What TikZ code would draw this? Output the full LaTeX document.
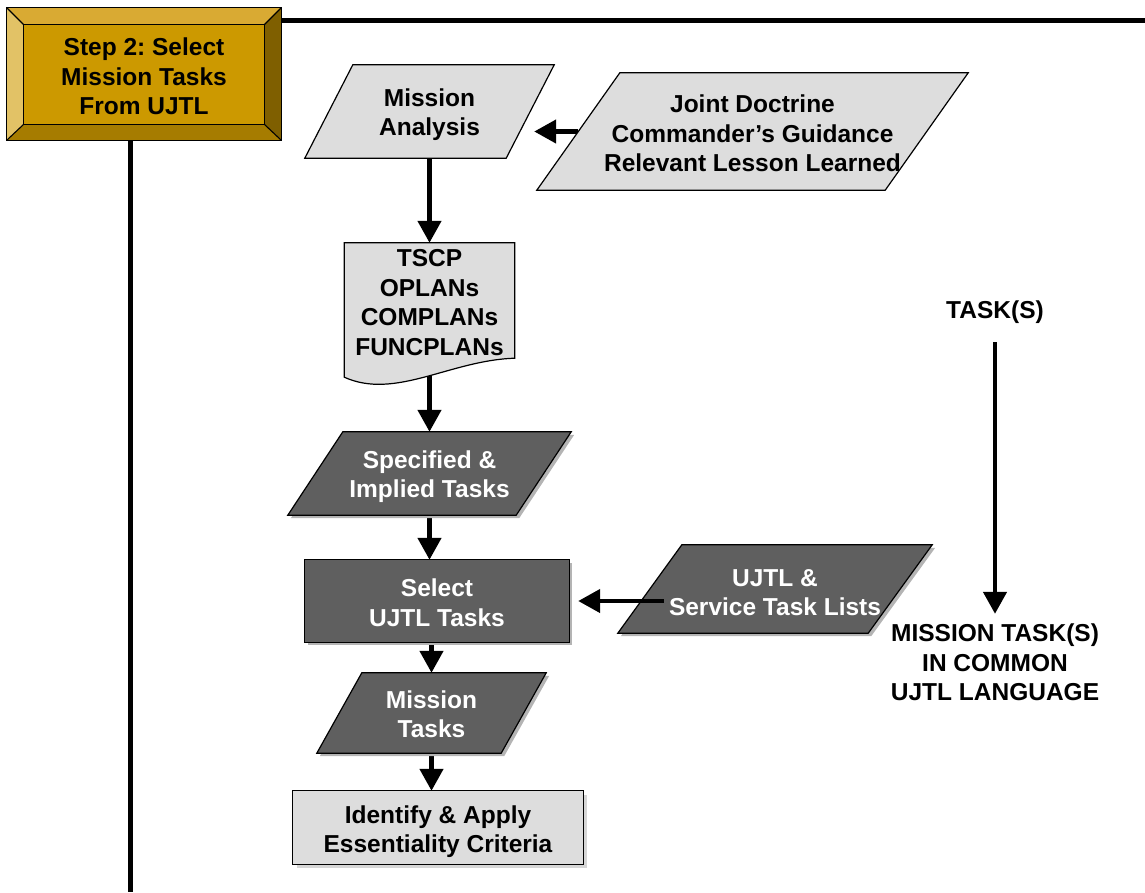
\documentclass[tikz,border=0pt]{standalone}
\usepackage{fontspec}
\setmainfont{Liberation Sans}
\usetikzlibrary{arrows.meta,calc}
\pgfdeclarelayer{background}
\pgfdeclarelayer{shapes}
\pgfsetlayers{background,shapes,main}
\frenchspacing

\definecolor{lightfill}{HTML}{DDDDDD}
\definecolor{darkfill}{HTML}{5F5F5F}
\definecolor{stepface}{HTML}{CC9900}
\definecolor{steptop}{HTML}{D9AA33}
\definecolor{stepleft}{HTML}{E2C266}
\definecolor{stepright}{HTML}{7F5F00}
\definecolor{stepbottom}{HTML}{A67C00}
\definecolor{shade}{HTML}{B4B4B4}
\definecolor{lightshade}{HTML}{D6D6D6}

\tikzset{
  box/.style={inner sep=0pt, align=center, font=\fontsize{24.5}{29.5}\selectfont\bfseries},
  lighttext/.style={box, text=black},
  darktext/.style={box, text=white},
  outline/.style={draw=black, line width=1.2pt, line join=miter},
  lightshape/.style={outline, fill=lightfill},
  darkshape/.style={outline, fill=darkfill,
    preaction={fill=shade, transform canvas={shift={(3pt,-3pt)}}}},
  liftedshape/.style={outline, fill=lightfill,
    preaction={fill=lightshade, transform canvas={shift={(4pt,-4pt)}}}},
  flow/.style={line width=4.5pt, -{Triangle[length=22pt,width=23pt]}},
  frame/.style={line width=5pt},
}

% strut that sets the height of a first text line (moves the text block down)
\newcommand{\firstline}[1]{\rule{0pt}{#1pt}}

% parallelogram around a node: #1 node, #2 horizontal slant, #3 style
\newcommand{\slantbox}[3]{%
  \begin{pgfonlayer}{shapes}
    \path[#3] ($(#1.south west)+(-#2/2,0)$) -- ($(#1.south east)+(-#2/2,0)$)
      -- ($(#1.north east)+(#2/2,0)$) -- ($(#1.north west)+(#2/2,0)$) -- cycle;
  \end{pgfonlayer}}
% plain rectangle around a node
\newcommand{\squarebox}[2]{%
  \begin{pgfonlayer}{shapes}
    \path[#2] (#1.south west) rectangle (#1.north east);
  \end{pgfonlayer}}

\begin{document}
\begin{tikzpicture}[x=1pt,y=-1pt]
\useasboundingbox (0,0) rectangle (1145,892);

% ---- step header ----
\node[lighttext, minimum width=274pt, minimum height=132pt] (step) at (144,74)
  {\firstline{23}Step 2: Select\\Mission Tasks\\From UJTL};
\begin{pgfonlayer}{shapes}
  \coordinate (s1) at (step.north west);
  \coordinate (s2) at (step.north east);
  \coordinate (s3) at (step.south east);
  \coordinate (s4) at (step.south west);
  \coordinate (i1) at ($(s1)+(17,17)$);
  \coordinate (i2) at ($(s2)+(-17,17)$);
  \coordinate (i3) at ($(s3)+(-17,-16)$);
  \coordinate (i4) at ($(s4)+(17,-16)$);
  \fill[steptop] (s1) -- (s2) -- (i2) -- (i1) -- cycle;
  \fill[stepleft] (s1) -- (i1) -- (i4) -- (s4) -- cycle;
  \fill[stepright] (s2) -- (s3) -- (i3) -- (i2) -- cycle;
  \fill[stepbottom] (s4) -- (i4) -- (i3) -- (s3) -- cycle;
  \fill[stepface] (i1) rectangle (i3);
  \draw[line width=1.3pt] (s1) rectangle (s3);
  \draw[line width=1.1pt] (i1) rectangle (i3);
  \draw[line width=1.1pt] (s1) -- (i1) (s2) -- (i2) (s3) -- (i3) (s4) -- (i4);
\end{pgfonlayer}
\draw[frame] (step.east |- 0,20) -- (1145,20);
\draw[frame] ([xshift=-14pt]step.south) -- ([xshift=-14pt]step.south |- 0,892);

% ---- flow chart nodes ----
\node[lighttext, minimum width=201pt, minimum height=93pt] (ma) at (429.5,111.5)
  {\firstline{24}Mission\\Analysis};
\slantbox{ma}{48}{lightshape}

\node[lighttext, minimum width=348pt, minimum height=117pt] (jd) at (752.5,131.5)
  {\firstline{22}Joint Doctrine\\Commander’s Guidance\\Relevant Lesson Learned};
\slantbox{jd}{83}{lightshape}

\node[lighttext, minimum width=170pt, minimum height=119pt] (doc) at (429.5,302.5)
  {TSCP\\OPLANs\\COMPLANs\\FUNCPLANs};
\begin{pgfonlayer}{shapes}
  \path[lightshape] (doc.north west) -- (doc.north east) -- ($(doc.south east)+(0,-4)$)
    .. controls ($(doc.south west)+(106,-2)$) and ($(doc.south west)+(51,38)$)
    .. ($(doc.south west)+(0,15)$) -- cycle;
\end{pgfonlayer}

\node[darktext, minimum width=228pt, minimum height=83pt] (spec) at (429.5,473.5)
  {\firstline{24}Specified \&\\Implied Tasks};
\slantbox{spec}{55}{darkshape}

\node[darktext, minimum width=264pt, minimum height=82pt] (sel) at (437,601)
  {\firstline{21}Select\\UJTL Tasks};
\squarebox{sel}{darkshape}

\node[darktext, minimum width=250pt, minimum height=88pt] (ujtl) at (775,589)
  {\firstline{24}UJTL \&\\Service Task Lists};
\slantbox{ujtl}{64}{darkshape}

\node[darktext, minimum width=184pt, minimum height=80pt] (mt) at (431.5,713)
  {\firstline{20}Mission\\Tasks};
\slantbox{mt}{45}{darkshape}

\node[lighttext, minimum width=290pt, minimum height=73pt] (id) at (438,827.5)
  {\firstline{26}Identify \& Apply\\Essentiality Criteria};
\squarebox{id}{liftedshape}

\node[lighttext] (task) at (995,312.5) {TASK(S)};
\node[lighttext] (mtask) at (995,662.5) {MISSION TASK(S)\\IN COMMON\\UJTL LANGUAGE};

% ---- connectors ----
\begin{pgfonlayer}{background}
  \draw[flow] (ma.south) -- (doc.north);
  \draw[flow] (doc.south) -- (spec.north);
  \draw[flow] (spec.south) -- (spec.south |- sel.north);
  \draw[flow] (mt.north |- sel.south) -- (mt.north);
  \draw[flow] (mt.south) -- (mt.south |- id.north);
  \draw[flow, shorten >=4pt] (jd.west) -- (ma.east |- jd.west);
\end{pgfonlayer}
\draw[flow, shorten >=9pt] ([xshift=14pt]ujtl.west |- sel.east) -- (sel.east);
\draw[flow, shorten <=18pt, shorten >=10pt] (task.south) -- (mtask.north);
\end{tikzpicture}
\end{document}
